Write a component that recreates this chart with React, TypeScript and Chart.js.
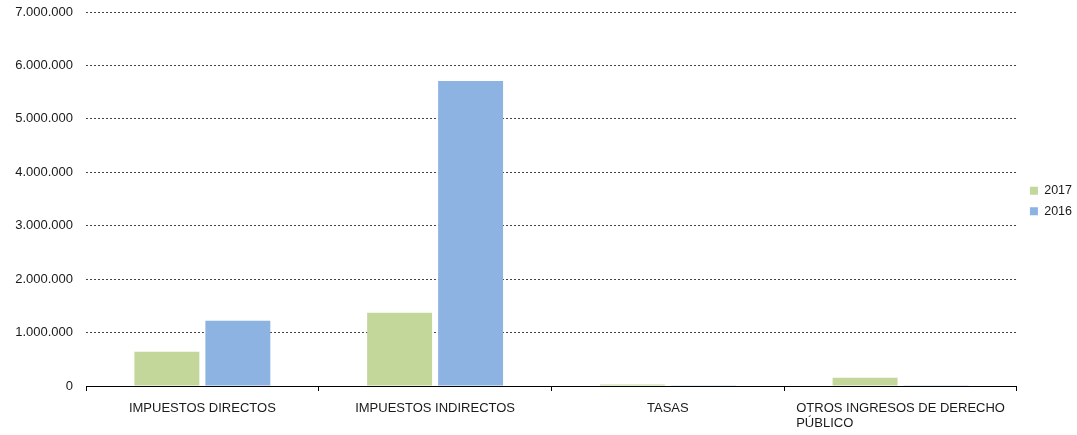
import React, { useEffect, useRef } from "react";
import { Chart, registerables } from "chart.js";

Chart.register(...registerables);

const categories: string[][] = [
  ["IMPUESTOS DIRECTOS"],
  ["IMPUESTOS INDIRECTOS"],
  ["TASAS"],
  ["OTROS INGRESOS DE DERECHO", "PÚBLICO"],
];
const seriesNames = ["2017", "2016"];
const values2017 = [641000, 1370000, 30000, 155000];
const values2016 = [1220000, 5707000, 15000, 15000];
const yTickMax = 7000000;
const yTickStep = 1000000;

const FONT = "'Liberation Sans', Arial, sans-serif";
const TEXT = "#1a1a1a";

const formatNum = (v: number) =>
  Math.round(v).toString().replace(/\B(?=(\d{3})+(?!\d))/g, ".");

const xLabelPlugin = {
  id: "xLabelPlugin",
  afterDraw(chart: any) {
    const ctx = chart.ctx;
    const xs = chart.scales.x;
    ctx.save();
    ctx.font = `13px ${FONT}`;
    ctx.fillStyle = TEXT;
    ctx.textBaseline = "middle";
    ctx.textAlign = "left";
    const top = xs.top + 22;
    categories.forEach((lines, i) => {
      const cx = xs.getPixelForValue(i);
      const maxW = Math.max(...lines.map((l) => ctx.measureText(l).width));
      const x0 = cx - maxW / 2;
      lines.forEach((l, j) => {
        ctx.fillText(l, x0, top + j * 15);
      });
    });
    ctx.restore();
  },
};

const legendPlacePlugin = {
  id: "legendPlacePlugin",
  afterLayout(chart: any) {
    const lg = chart.legend;
    const ca = chart.chartArea;
    if (!lg || !ca) return;
    const dx = 5;
    const dy = (ca.top + ca.bottom) / 2 + 2 - (lg.top + lg.bottom) / 2;
    lg.left += dx;
    lg.right += dx;
    lg.top += dy;
    lg.bottom += dy;
  },
};

export default function App() {
  const ref = useRef<HTMLCanvasElement>(null);
  useEffect(() => {
    document.body.style.margin = "0";
    const chart = new Chart(ref.current!, {
      type: "bar",
      data: {
        labels: categories.map((c) => c.join(" ")),
        datasets: [
          {
            label: seriesNames[0],
            data: values2017,
            backgroundColor: "#c4d79b",
            categoryPercentage: 0.61,
            barPercentage: 0.915,
          },
          {
            label: seriesNames[1],
            data: values2016,
            backgroundColor: "#8db3e2",
            categoryPercentage: 0.61,
            barPercentage: 0.915,
          },
        ],
      },
      options: {
        animation: false,
        responsive: false,
        maintainAspectRatio: false,
        layout: { padding: { top: 12, right: 0, left: 0, bottom: 0 } },
        plugins: {
          tooltip: { enabled: false },
          legend: {
            position: "right",
            labels: {
              boxWidth: 8,
              boxHeight: 8,
              padding: 8,
              color: TEXT,
              font: { family: FONT, size: 12.5 },
            },
          },
        },
        scales: {
          x: {
            offset: true,
            grid: {
              offset: true,
              drawOnChartArea: false,
              drawTicks: true,
              tickLength: 5,
              color: "#000",
            },
            border: { display: true, color: "#000", width: 1 },
            ticks: { color: "transparent", font: { family: FONT, size: 13 } },
            afterFit: (s: any) => {
              s.height = 49;
            },
          },
          y: {
            min: 0,
            max: yTickMax,
            ticks: {
              stepSize: yTickStep,
              color: TEXT,
              padding: 13,
              font: { family: FONT, size: 13 },
              callback: (v: any) => formatNum(Number(v)),
            },
            grid: { color: "#444", drawTicks: false, tickLength: 0 },
            border: { display: false, dash: [2, 2] },
            afterFit: (s: any) => {
              s.width = 86;
              s.paddingTop = 0;
              s.paddingBottom = 0;
            },
          },
        },
      },
      plugins: [xLabelPlugin, legendPlacePlugin],
    });
    return () => chart.destroy();
  }, []);
  return <canvas ref={ref} width={1077} height={435} style={{ display: "block" }} />;
}
